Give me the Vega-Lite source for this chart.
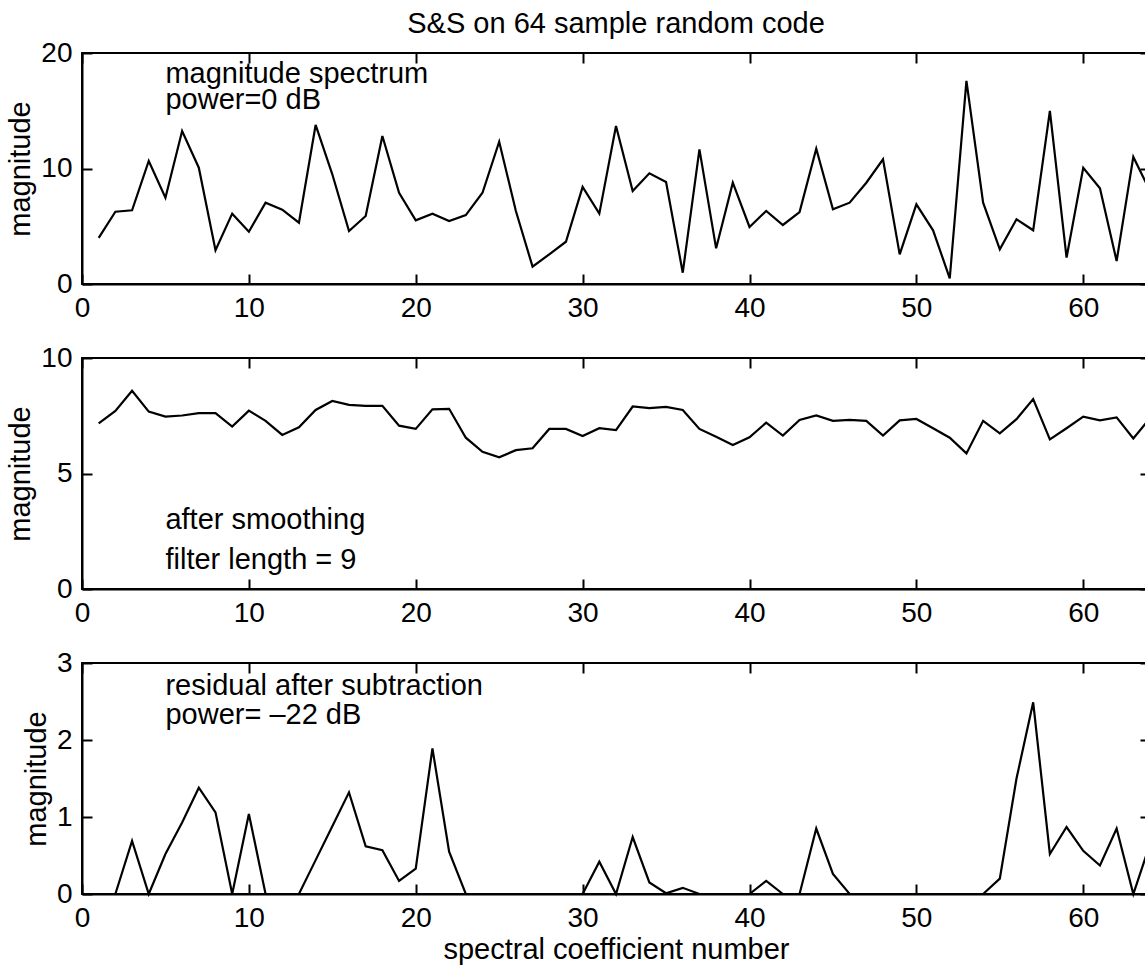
{
  "$schema": "https://vega.github.io/schema/vega-lite/v6.json",
  "padding": {"left": 5, "top": 9, "right": 0, "bottom": 0},
  "autosize": {"type": "pad"},
  "background": "white",
  "bounds": "flush",
  "spacing": 74,
  "config": {
    "font": "Liberation Sans",
    "view": {"stroke": "black", "strokeWidth": 2},
    "axis": {
      "labelFont": "Liberation Sans", "labelFontSize": 28, "labelColor": "black",
      "titleFont": "Liberation Sans", "titleFontSize": 29, "titleFontWeight": "normal", "titleColor": "black",
      "domainColor": "black", "domainWidth": 2, "tickColor": "black", "tickWidth": 2, "tickSize": -10,
      "grid": false, "labelFlush": false, "labelOverlap": false
    },
    "axisX": {"labelPadding": 20, "titlePadding": 3},
    "axisY": {"labelPadding": 20, "titlePadding": 5},
    "text": {"font": "Liberation Sans", "fontSize": 29, "color": "black"}
  },
  "datasets": {
    "s1": [
      {"n": 1, "magnitude": 4.0}, {"n": 2, "magnitude": 6.26}, {"n": 3, "magnitude": 6.38}, {"n": 4, "magnitude": 10.65},
      {"n": 5, "magnitude": 7.47}, {"n": 6, "magnitude": 13.25}, {"n": 7, "magnitude": 10.07}, {"n": 8, "magnitude": 2.92},
      {"n": 9, "magnitude": 6.09}, {"n": 10, "magnitude": 4.53}, {"n": 11, "magnitude": 7.04}, {"n": 12, "magnitude": 6.43},
      {"n": 13, "magnitude": 5.31}, {"n": 14, "magnitude": 13.77}, {"n": 15, "magnitude": 9.5}, {"n": 16, "magnitude": 4.59},
      {"n": 17, "magnitude": 5.89}, {"n": 18, "magnitude": 12.81}, {"n": 19, "magnitude": 7.9}, {"n": 20, "magnitude": 5.51},
      {"n": 21, "magnitude": 6.09}, {"n": 22, "magnitude": 5.45}, {"n": 23, "magnitude": 5.97}, {"n": 24, "magnitude": 7.9},
      {"n": 25, "magnitude": 12.32}, {"n": 26, "magnitude": 6.32}, {"n": 27, "magnitude": 1.5}, {"n": 28, "magnitude": 2.57},
      {"n": 29, "magnitude": 3.66}, {"n": 30, "magnitude": 8.4}, {"n": 31, "magnitude": 6.09}, {"n": 32, "magnitude": 13.68},
      {"n": 33, "magnitude": 8.05}, {"n": 34, "magnitude": 9.58}, {"n": 35, "magnitude": 8.83}, {"n": 36, "magnitude": 0.98},
      {"n": 37, "magnitude": 11.66}, {"n": 38, "magnitude": 3.09}, {"n": 39, "magnitude": 8.77}, {"n": 40, "magnitude": 4.94},
      {"n": 41, "magnitude": 6.32}, {"n": 42, "magnitude": 5.11}, {"n": 43, "magnitude": 6.23}, {"n": 44, "magnitude": 11.72},
      {"n": 45, "magnitude": 6.47}, {"n": 46, "magnitude": 7.04}, {"n": 47, "magnitude": 8.77}, {"n": 48, "magnitude": 10.8},
      {"n": 49, "magnitude": 2.57}, {"n": 50, "magnitude": 6.9}, {"n": 51, "magnitude": 4.65}, {"n": 52, "magnitude": 0.49},
      {"n": 53, "magnitude": 17.58}, {"n": 54, "magnitude": 7.04}, {"n": 55, "magnitude": 3.0}, {"n": 56, "magnitude": 5.6},
      {"n": 57, "magnitude": 4.65}, {"n": 58, "magnitude": 14.98}, {"n": 59, "magnitude": 2.28}, {"n": 60, "magnitude": 10.07},
      {"n": 61, "magnitude": 8.28}, {"n": 62, "magnitude": 1.99}, {"n": 63, "magnitude": 11.0}, {"n": 64, "magnitude": 8.05}
    ],
    "s2": [
      {"n": 1, "magnitude": 7.17}, {"n": 2, "magnitude": 7.71}, {"n": 3, "magnitude": 8.58}, {"n": 4, "magnitude": 7.68},
      {"n": 5, "magnitude": 7.46}, {"n": 6, "magnitude": 7.51}, {"n": 7, "magnitude": 7.61}, {"n": 8, "magnitude": 7.61},
      {"n": 9, "magnitude": 7.03}, {"n": 10, "magnitude": 7.72}, {"n": 11, "magnitude": 7.28}, {"n": 12, "magnitude": 6.67},
      {"n": 13, "magnitude": 7.0}, {"n": 14, "magnitude": 7.75}, {"n": 15, "magnitude": 8.14}, {"n": 16, "magnitude": 7.97},
      {"n": 17, "magnitude": 7.93}, {"n": 18, "magnitude": 7.93}, {"n": 19, "magnitude": 7.07}, {"n": 20, "magnitude": 6.93},
      {"n": 21, "magnitude": 7.78}, {"n": 22, "magnitude": 7.8}, {"n": 23, "magnitude": 6.55}, {"n": 24, "magnitude": 5.94},
      {"n": 25, "magnitude": 5.7}, {"n": 26, "magnitude": 6.01}, {"n": 27, "magnitude": 6.09}, {"n": 28, "magnitude": 6.93},
      {"n": 29, "magnitude": 6.93}, {"n": 30, "magnitude": 6.62}, {"n": 31, "magnitude": 6.96}, {"n": 32, "magnitude": 6.88},
      {"n": 33, "magnitude": 7.9}, {"n": 34, "magnitude": 7.83}, {"n": 35, "magnitude": 7.88}, {"n": 36, "magnitude": 7.75},
      {"n": 37, "magnitude": 6.93}, {"n": 38, "magnitude": 6.59}, {"n": 39, "magnitude": 6.23}, {"n": 40, "magnitude": 6.57},
      {"n": 41, "magnitude": 7.2}, {"n": 42, "magnitude": 6.64}, {"n": 43, "magnitude": 7.32}, {"n": 44, "magnitude": 7.51},
      {"n": 45, "magnitude": 7.28}, {"n": 46, "magnitude": 7.32}, {"n": 47, "magnitude": 7.28}, {"n": 48, "magnitude": 6.64},
      {"n": 49, "magnitude": 7.3}, {"n": 50, "magnitude": 7.36}, {"n": 51, "magnitude": 6.96}, {"n": 52, "magnitude": 6.55},
      {"n": 53, "magnitude": 5.87}, {"n": 54, "magnitude": 7.28}, {"n": 55, "magnitude": 6.74}, {"n": 56, "magnitude": 7.35},
      {"n": 57, "magnitude": 8.22}, {"n": 58, "magnitude": 6.48}, {"n": 59, "magnitude": 6.96}, {"n": 60, "magnitude": 7.46},
      {"n": 61, "magnitude": 7.3}, {"n": 62, "magnitude": 7.43}, {"n": 63, "magnitude": 6.52}, {"n": 64, "magnitude": 7.4}
    ],
    "s3": [
      {"n": 1, "magnitude": 0}, {"n": 2, "magnitude": 0}, {"n": 3, "magnitude": 0.69}, {"n": 4, "magnitude": 0},
      {"n": 5, "magnitude": 0.52}, {"n": 6, "magnitude": 0.93}, {"n": 7, "magnitude": 1.38}, {"n": 8, "magnitude": 1.06},
      {"n": 9, "magnitude": 0}, {"n": 10, "magnitude": 1.04}, {"n": 11, "magnitude": 0}, {"n": 12, "magnitude": 0},
      {"n": 13, "magnitude": 0}, {"n": 14, "magnitude": 0.44}, {"n": 15, "magnitude": 0.88}, {"n": 16, "magnitude": 1.32},
      {"n": 17, "magnitude": 0.62}, {"n": 18, "magnitude": 0.57}, {"n": 19, "magnitude": 0.17}, {"n": 20, "magnitude": 0.33},
      {"n": 21, "magnitude": 1.89}, {"n": 22, "magnitude": 0.55}, {"n": 23, "magnitude": 0}, {"n": 24, "magnitude": 0},
      {"n": 25, "magnitude": 0}, {"n": 26, "magnitude": 0}, {"n": 27, "magnitude": 0}, {"n": 28, "magnitude": 0},
      {"n": 29, "magnitude": 0}, {"n": 30, "magnitude": 0}, {"n": 31, "magnitude": 0.42}, {"n": 32, "magnitude": 0},
      {"n": 33, "magnitude": 0.74}, {"n": 34, "magnitude": 0.15}, {"n": 35, "magnitude": 0.01}, {"n": 36, "magnitude": 0.08},
      {"n": 37, "magnitude": 0}, {"n": 38, "magnitude": 0}, {"n": 39, "magnitude": 0}, {"n": 40, "magnitude": 0},
      {"n": 41, "magnitude": 0.17}, {"n": 42, "magnitude": 0}, {"n": 43, "magnitude": 0}, {"n": 44, "magnitude": 0.85},
      {"n": 45, "magnitude": 0.26}, {"n": 46, "magnitude": 0}, {"n": 47, "magnitude": 0}, {"n": 48, "magnitude": 0},
      {"n": 49, "magnitude": 0}, {"n": 50, "magnitude": 0}, {"n": 51, "magnitude": 0}, {"n": 52, "magnitude": 0},
      {"n": 53, "magnitude": 0}, {"n": 54, "magnitude": 0}, {"n": 55, "magnitude": 0.2}, {"n": 56, "magnitude": 1.5},
      {"n": 57, "magnitude": 2.49}, {"n": 58, "magnitude": 0.52}, {"n": 59, "magnitude": 0.87}, {"n": 60, "magnitude": 0.56},
      {"n": 61, "magnitude": 0.37}, {"n": 62, "magnitude": 0.85}, {"n": 63, "magnitude": 0}, {"n": 64, "magnitude": 0.65}
    ],
    "notes": [
      {"panel": 1, "n": 5, "magnitude": 17.43, "label": "magnitude spectrum"},
      {"panel": 1, "n": 5, "magnitude": 15.13, "label": "power=0 dB"},
      {"panel": 2, "n": 5, "magnitude": 2.61, "label": "after smoothing"},
      {"panel": 2, "n": 5, "magnitude": 0.87, "label": "filter length = 9"},
      {"panel": 3, "n": 5, "magnitude": 2.58, "label": "residual after subtraction"},
      {"panel": 3, "n": 5, "magnitude": 2.21, "label": "power= –22 dB"}
    ]
  },
  "vconcat": [
    {
      "width": 1068, "height": 231,
      "title": {"text": "S&S on 64 sample random code", "fontSize": 29, "font": "Liberation Sans", "fontWeight": "normal", "anchor": "middle", "frame": "group", "baseline": "alphabetic", "offset": -23, "color": "black"},
      "layer": [
        {
          "data": {"name": "s1"},
          "mark": {"type": "line", "color": "black", "strokeWidth": 2.2},
          "encoding": {
            "x": {"field": "n", "type": "quantitative", "scale": {"domain": [0, 64], "nice": false}, "axis": {"orient": "bottom", "title": null, "values": [0, 10, 20, 30, 40, 50, 60]}},
            "y": {"field": "magnitude", "type": "quantitative", "scale": {"domain": [0, 20], "nice": false}, "axis": {"orient": "left", "title": "magnitude", "values": [0, 10, 20]}}
          }
        },
        {
          "data": {"name": "notes"},
          "transform": [{"filter": "datum.panel == 1"}],
          "mark": {"type": "text", "align": "left", "baseline": "alphabetic"},
          "encoding": {
            "x": {"field": "n", "type": "quantitative", "axis": null},
            "y": {"field": "magnitude", "type": "quantitative", "axis": null},
            "text": {"field": "label"}
          }
        },
        {
          "data": {"name": "s1"},
          "mark": {"type": "point", "opacity": 0},
          "encoding": {
            "x": {"field": "n", "type": "quantitative", "axis": {"orient": "top", "labels": false, "title": null, "domain": false, "values": [0, 10, 20, 30, 40, 50, 60]}},
            "y": {"field": "magnitude", "type": "quantitative", "axis": {"orient": "right", "labels": false, "title": null, "domain": false, "values": [0, 10, 20]}}
          }
        }
      ],
      "resolve": {"axis": {"x": "independent", "y": "independent"}}
    },
    {
      "width": 1068, "height": 231,
      "layer": [
        {
          "data": {"name": "s2"},
          "mark": {"type": "line", "color": "black", "strokeWidth": 2.2},
          "encoding": {
            "x": {"field": "n", "type": "quantitative", "scale": {"domain": [0, 64], "nice": false}, "axis": {"orient": "bottom", "title": null, "values": [0, 10, 20, 30, 40, 50, 60]}},
            "y": {"field": "magnitude", "type": "quantitative", "scale": {"domain": [0, 10], "nice": false}, "axis": {"orient": "left", "title": "magnitude", "values": [0, 5, 10]}}
          }
        },
        {
          "data": {"name": "notes"},
          "transform": [{"filter": "datum.panel == 2"}],
          "mark": {"type": "text", "align": "left", "baseline": "alphabetic"},
          "encoding": {
            "x": {"field": "n", "type": "quantitative", "axis": null},
            "y": {"field": "magnitude", "type": "quantitative", "axis": null},
            "text": {"field": "label"}
          }
        },
        {
          "data": {"name": "s2"},
          "mark": {"type": "point", "opacity": 0},
          "encoding": {
            "x": {"field": "n", "type": "quantitative", "axis": {"orient": "top", "labels": false, "title": null, "domain": false, "values": [0, 10, 20, 30, 40, 50, 60]}},
            "y": {"field": "magnitude", "type": "quantitative", "axis": {"orient": "right", "labels": false, "title": null, "domain": false, "values": [0, 5, 10]}}
          }
        }
      ],
      "resolve": {"axis": {"x": "independent", "y": "independent"}}
    },
    {
      "width": 1068, "height": 231,
      "layer": [
        {
          "data": {"name": "s3"},
          "mark": {"type": "line", "color": "black", "strokeWidth": 2.2},
          "encoding": {
            "x": {"field": "n", "type": "quantitative", "scale": {"domain": [0, 64], "nice": false}, "axis": {"orient": "bottom", "title": "spectral coefficient number", "values": [0, 10, 20, 30, 40, 50, 60]}},
            "y": {"field": "magnitude", "type": "quantitative", "scale": {"domain": [0, 3], "nice": false}, "axis": {"orient": "left", "title": "magnitude", "values": [0, 1, 2, 3]}}
          }
        },
        {
          "data": {"name": "notes"},
          "transform": [{"filter": "datum.panel == 3"}],
          "mark": {"type": "text", "align": "left", "baseline": "alphabetic"},
          "encoding": {
            "x": {"field": "n", "type": "quantitative", "axis": null},
            "y": {"field": "magnitude", "type": "quantitative", "axis": null},
            "text": {"field": "label"}
          }
        },
        {
          "data": {"name": "s3"},
          "mark": {"type": "point", "opacity": 0},
          "encoding": {
            "x": {"field": "n", "type": "quantitative", "axis": {"orient": "top", "labels": false, "title": null, "domain": false, "values": [0, 10, 20, 30, 40, 50, 60]}},
            "y": {"field": "magnitude", "type": "quantitative", "axis": {"orient": "right", "labels": false, "title": null, "domain": false, "values": [0, 1, 2, 3]}}
          }
        }
      ],
      "resolve": {"axis": {"x": "independent", "y": "independent"}}
    }
  ]
}
